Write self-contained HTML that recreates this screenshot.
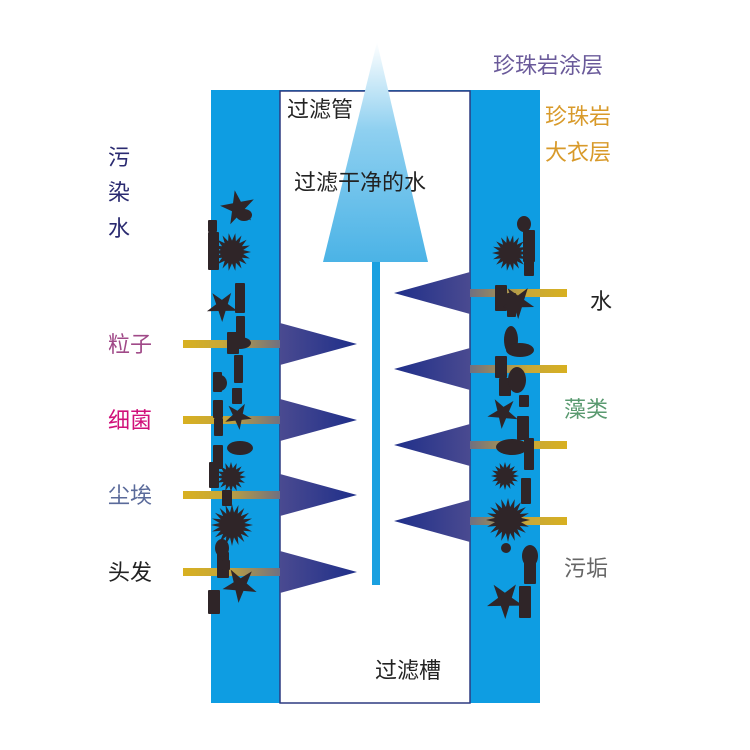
<!DOCTYPE html>
<html><head><meta charset="utf-8"><style>
html,body{margin:0;padding:0;background:#fff;width:750px;height:750px;overflow:hidden}
svg{display:block}
text{font-family:"Liberation Sans","Noto Sans CJK SC",sans-serif;font-size:22px}
</style></head><body>
<svg id="s" width="750" height="750" viewBox="0 0 750 750">
<defs>
<linearGradient id="up" x1="0" y1="1" x2="0" y2="0">
<stop offset="0" stop-color="#4bb3e6"/><stop offset="0.6" stop-color="#8fd0f0"/><stop offset="1" stop-color="#ffffff"/></linearGradient>
<linearGradient id="tl" x1="0" x2="1"><stop offset="0" stop-color="#4a4a90"/><stop offset="1" stop-color="#1f2f8a"/></linearGradient>
<linearGradient id="tr" x1="1" x2="0"><stop offset="0" stop-color="#4a4a90"/><stop offset="1" stop-color="#1f2f8a"/></linearGradient>
<linearGradient id="rl" x1="0" x2="1"><stop offset="0" stop-color="#d8b020"/><stop offset="0.4" stop-color="#c8a838"/><stop offset="1" stop-color="#707080"/></linearGradient>
<linearGradient id="rr" x1="1" x2="0"><stop offset="0" stop-color="#d8b020"/><stop offset="0.4" stop-color="#c8a838"/><stop offset="1" stop-color="#707080"/></linearGradient>
</defs>
<rect x="211" y="90" width="329" height="613" fill="#0e9de2"/>
<rect x="280" y="91" width="190" height="612" fill="#fff" stroke="#2d3a80" stroke-width="1.5"/>
<rect x="372" y="255" width="8" height="330" fill="#1aa0e0"/>
<polygon points="377,42 323,262 428,262" fill="url(#up)"/>
<g id="tri"></g>
<g id="parts" fill="#2f2528"></g>
<text x="287" y="117" fill="#222" font-size="20">过滤管</text>
<text x="294" y="190" fill="#222">过滤干净的水</text>
<text x="375" y="678" fill="#222">过滤槽</text>
<text x="493" y="73" fill="#6a5a9a">珍珠岩涂层</text>
<text x="545" y="124" fill="#d89a2a">珍珠岩</text>
<text x="545" y="160" fill="#d89a2a">大衣层</text>
<text x="108" y="165" fill="#2a2a70">污</text>
<text x="108" y="200" fill="#2a2a70">染</text>
<text x="108" y="236" fill="#2a2a70">水</text>
<text x="108" y="352" fill="#a04a88">粒子</text>
<text x="108" y="428" fill="#d0107a">细菌</text>
<text x="108" y="503" fill="#5a6a9a">尘埃</text>
<text x="108" y="580" fill="#222">头发</text>
<text x="590" y="309" fill="#222">水</text>
<text x="564" y="417" fill="#5a9a70">藻类</text>
<text x="564" y="576" fill="#666">污垢</text>
</svg>
<script>
var NS="http://www.w3.org/2000/svg",tri=document.getElementById('tri'),P=document.getElementById('parts');
function el(p,t,a){var e=document.createElementNS(NS,t);for(var k in a)e.setAttribute(k,a[k]);p.appendChild(e);return e;}
[344,420,495,572].forEach(function(y){
 el(tri,'rect',{x:183,y:y-4,width:97,height:8,fill:'url(#rl)'});
 el(tri,'polygon',{points:'280,'+(y-21)+' 357,'+y+' 280,'+(y+21),fill:'url(#tl)'});
});
[293,369,445,521].forEach(function(y){
 el(tri,'rect',{x:470,y:y-4,width:97,height:8,fill:'url(#rr)'});
 el(tri,'polygon',{points:'470,'+(y-21)+' 394,'+y+' 470,'+(y+21),fill:'url(#tr)'});
});
function burst(cx,cy,r,n){var p=[];for(var i=0;i<2*n;i++){var a=Math.PI*i/n,rr=i%2?r*0.6:r;p.push((cx+rr*Math.cos(a)).toFixed(1)+','+(cy+rr*Math.sin(a)).toFixed(1));}el(P,'polygon',{points:p.join(' ')});}
function star(cx,cy,r,rot){var p=[];for(var i=0;i<10;i++){var a=rot+Math.PI*i/5,rr=i%2?r*0.38:r;p.push((cx+rr*Math.cos(a)).toFixed(1)+','+(cy+rr*Math.sin(a)).toFixed(1));}el(P,'polygon',{points:p.join(' ')});}
function R(x,y,w,h){el(P,'rect',{x:x,y:y,width:w,height:h,rx:1});}
function E(x,y,a,b){el(P,'ellipse',{cx:x,cy:y,rx:a,ry:b});}
// left column
star(238,208,18,-0.5);E(244,215,8,6);burst(232,252,19,18);R(208,232,11,38);R(208,220,9,12);
star(222,306,16,0.3);R(235,283,10,30);R(236,316,9,24);E(240,343,11,6);R(227,332,12,22);
R(234,355,9,28);R(213,372,9,20);E(220,383,7,8);R(232,388,10,16);R(213,400,10,18);star(238,416,14,0.2);R(214,418,9,18);
E(240,448,13,7);R(213,445,10,24);burst(231,477,15,16);R(209,462,10,26);R(222,490,10,16);
burst(232,525,21,20);R(217,552,12,26);E(222,548,7,9);star(240,585,18,0.4);R(208,590,12,24);R(222,560,8,10);
// right column
burst(510,253,18,18);R(523,230,12,32);E(524,224,7,8);R(524,260,10,16);R(495,285,12,26);star(518,302,17,0.3);R(507,293,9,24);
E(511,340,7,14);E(520,350,14,7);R(495,356,12,22);R(499,378,12,18);E(517,380,9,13);R(519,395,10,12);star(503,413,16,0.4);R(517,416,12,24);
E(512,447,16,8);R(524,438,10,32);burst(505,476,14,16);R(521,478,10,26);
burst(508,520,22,20);E(530,556,8,11);R(524,558,12,26);star(505,600,19,0.3);R(519,586,12,32);E(506,548,5,5);
</script>
</body></html>
